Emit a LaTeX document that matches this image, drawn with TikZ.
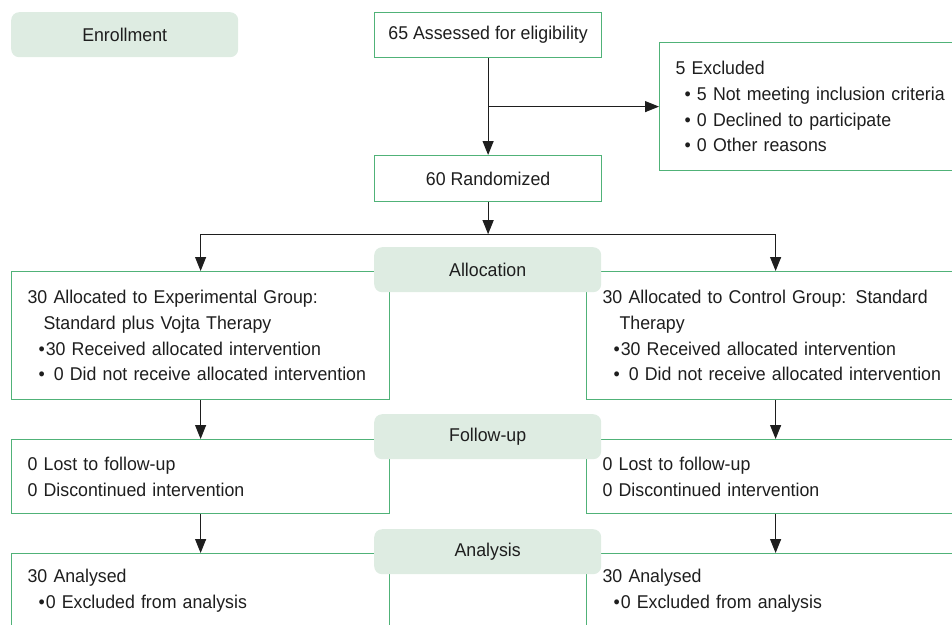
\documentclass[tikz,border=0pt]{standalone}
\usepackage{fontspec}
\setmainfont{Liberation Sans}[FakeStretch=0.96]
\usepackage{tikz}
\usetikzlibrary{arrows.meta, positioning}
\definecolor{boxgreen}{RGB}{80,178,120}
\definecolor{stagefill}{RGB}{222,236,226}
\definecolor{inkgray}{RGB}{30,30,30}
\tikzset{
	stage/.style={
		fill=stagefill,
		rounded corners=8pt,
		anchor=north west,
		minimum width=227pt,
		minimum height=45pt,
		inner sep=0pt,
		text=inkgray
	},
	flowbox/.style={
		draw=boxgreen,
		line width=1.2pt,
		fill=white,
		anchor=north west,
		align=left,
		inner xsep=16pt,
		inner ysep=0pt,
		text=inkgray
	},
	smallbox/.style={flowbox, align=center, inner xsep=0pt, minimum width=227pt},
	armbox/.style={flowbox, text width=346pt},
	arr/.style={-{Triangle[width=11pt,length=14pt]}, draw=inkgray, line width=1.1pt},
	link/.style={draw=inkgray, line width=1.1pt}
}

\begin{document}
\begin{tikzpicture}[x=1pt, y=-1pt, font=\fontsize{18.5}{25.7}\selectfont]
		\useasboundingbox (0,0) rectangle (952,624);
		\clip (0,0) rectangle (952,624);

		% the boxes
		\node[smallbox, minimum height=45pt] (assess) at (374,12) {65 Assessed for eligibility};
		\node[flowbox, text width=278pt, minimum height=128pt] (exclu) at (659,42)
			{5 Excluded\\
			\hspace*{9pt}\textbullet\ 5 Not meeting inclusion criteria\\
			\hspace*{9pt}\textbullet\ 0 Declined to participate\\
			\hspace*{9pt}\textbullet\ 0 Other reasons};
		\node[smallbox, minimum height=46pt] (random) at (374,155) {60 Randomized};

		\node[armbox, minimum height=128pt] (allocL) at (11,271)
			{30 Allocated to Experimental Group:\\
			\hspace*{16pt}Standard plus Vojta Therapy\\
			\hspace*{11pt}\textbullet\kern1pt 30 Received allocated intervention\\
			\hspace*{11pt}\textbullet\hspace*{9pt}0 Did not receive allocated intervention};
		\node[armbox, minimum height=128pt] (allocR) at (586,271)
			{30 Allocated to Control Group: Standard\\
			\hspace*{17pt}Therapy\\
			\hspace*{11pt}\textbullet\kern1pt 30 Received allocated intervention\\
			\hspace*{11pt}\textbullet\hspace*{9pt}0 Did not receive allocated intervention};

		\node[armbox, minimum height=74pt] (follL) at (11,439)
			{0 Lost to follow-up\\ 0 Discontinued intervention};
		\node[armbox, minimum height=74pt] (follR) at (586,439)
			{0 Lost to follow-up\\ 0 Discontinued intervention};

		\node[armbox, minimum height=74pt] (anaL) at (11,553)
			{30 Analysed\\ \hspace*{11pt}\textbullet\kern1pt 0 Excluded from analysis};
		\node[armbox, minimum height=74pt] (anaR) at (586,553)
			{30 Analysed\\ \hspace*{11pt}\textbullet\kern1pt 0 Excluded from analysis};

		% the arrows
		\draw[arr] (assess) -- (random);
		\draw[arr] (assess.south |- exclu.west) -- (exclu.west);
		\coordinate (split) at ([yshift=-32pt]random.south);
		\draw[arr] (random) -- (split);
		\draw[link] (allocL.north |- split) -- (allocR.north |- split);
		\draw[arr] (allocL.north |- split) -- (allocL);
		\draw[arr] (allocR.north |- split) -- (allocR);
		\draw[arr] (allocL) -- (follL);
		\draw[arr] (allocR) -- (follR);
		\draw[arr] (follL) -- (anaL);
		\draw[arr] (follR) -- (anaR);

		% the stage labels
		\node[stage] (enrol) at (11,12) {Enrollment};
		\node[stage] (alloclbl) at (374,247) {Allocation};
		\node[stage] (follbl) at (374,414) {Follow-up};
		\node[stage] (analbl) at (374,529) {Analysis};
	\end{tikzpicture}
\end{document}
